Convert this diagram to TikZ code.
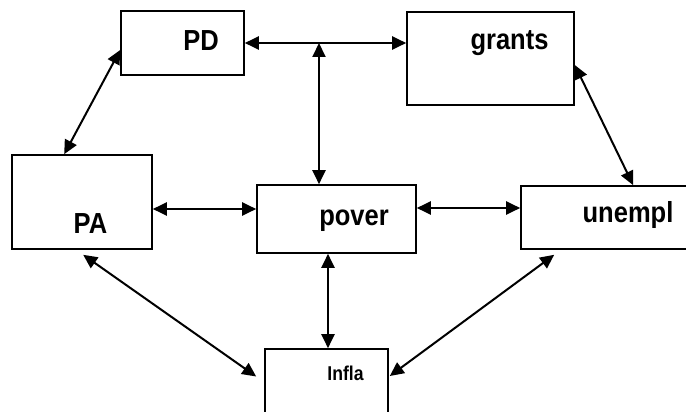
\documentclass[tikz,border=0pt]{standalone}
\usepackage{fontspec}
\setmainfont{Liberation Sans}[FakeStretch=0.88]
\usepackage{tikz}
\usetikzlibrary{arrows.meta, calc}

\tikzset{
  box/.style={draw, line width=1.6pt, inner sep=0pt},
  lbl/.style={font=\fontsize{29}{32}\selectfont\bfseries, inner sep=0pt, anchor=base},
  link/.style={line width=2pt, {Triangle[length=14pt,width=13pt]}-{Triangle[length=14pt,width=13pt]}}
}

\begin{document}
\begin{tikzpicture}[x=1pt, y=-1pt]
    \useasboundingbox (0,0) rectangle (686,412);
    \clip (0,0) rectangle (686,412);
    % boxes
    \foreach \n/\cx/\cy/\w/\h in {pd/182.5/43/123/64, grants/490.5/58.5/167/93, pa/82/202/140/94,
      pover/336.5/219/159/68, unempl/610.5/217.5/179/63, infla/326.5/389.5/123/81} {
      \node[box, minimum width=\w pt, minimum height=\h pt] (\n) at (\cx,\cy) {};
    }
    % labels
    \foreach \n/\x/\y/\t in {pdt/201/51/PD, grantst/509.5/50/grants, pat/90.5/233/PA,
      povert/354/225/pover, unemplt/628/222.5/unempl} {
      \node[lbl] (\n) at (\x,\y) {\t};
    }
    \node[lbl, font=\fontsize{20}{22}\selectfont\bfseries] (inflat) at (345.5,380.5) {Infla};
    % links
    \coordinate (top) at (319,43);
    \draw[link] (pd.east) -- (pd.east -| grants.west);
    \draw[link] (top) -- (top |- pover.north);
    \draw[link] ($(pa.north west)+(53,0)$) -- ($(pd.west)+(0,7)$);
    \draw[link] ($(pa.east)+(0,7)$) -- ($(pover.west)+(0,-10)$);
    \draw[link] ($(pover.east)+(0,-11)$) -- ($(unempl.west)+(0,-9.5)$);
    \draw[link] ($(grants.east)+(0,6.5)$) -- ($(unempl.north west)+(113,0)$);
    \draw[link] ($(pa.south west)+(72,5)$) -- ($(infla.west)+(-8,-13)$);
    \draw[link] ($(pover.south)+(-8.5,0)$) -- ($(infla.north)+(1.5,0)$);
    \draw[link] ($(infla.east)+(1,-13.5)$) -- ($(unempl.south west)+(34,5)$);
  \end{tikzpicture}
\end{document}
